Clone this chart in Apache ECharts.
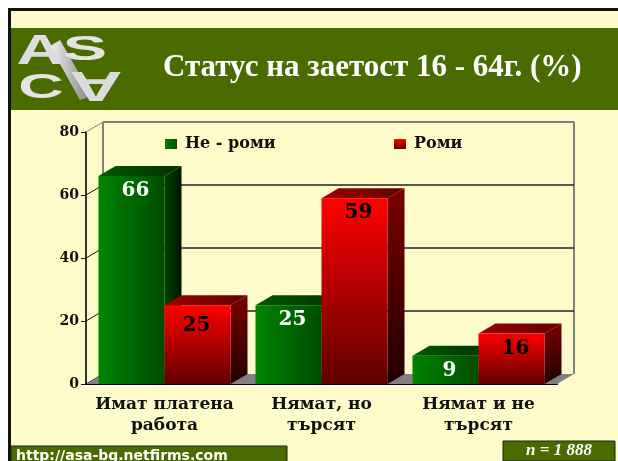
<!DOCTYPE html>
<html>
<head>
<meta charset="utf-8">
<style>
  html, body { margin: 0; padding: 0; background: #fff; }
  #chart { width: 618px; height: 461px; }
</style>
<script src="https://cdn.jsdelivr.net/npm/echarts@6/dist/echarts.min.js"></script>
</head>
<body>
<div id="chart"></div>
<script>
const categories = ['Имат платена\nработа', 'Нямат, но\nтърсят', 'Нямат и не\nтърсят'];
const nonRoma = [66, 25, 9];
const roma = [25, 59, 16];
const yTicks = [0, 20, 40, 60, 80];
const nonRomaName = 'Не - роми';
const romaName = 'Роми';

const serif = '"DejaVu Serif", serif';
const cream = '#fdfbc9';
const olive = '#4a6b00';
const depthX = 17;
const depthY = -10;

const hGrad = (a, b) => new echarts.graphic.LinearGradient(0, 0, 1, 0, [{ offset: 0, color: a }, { offset: 1, color: b }]);
const vGrad = (a, b) => new echarts.graphic.LinearGradient(0, 0, 0, 1, [{ offset: 0, color: a }, { offset: 1, color: b }]);

const poly = (points, fill, z2) => ({
  type: 'polygon',
  shape: { points },
  style: { fill },
  z2,
});

// 3d bar: front face, top and side, offset left or right of the category centre
const barItem = (colors, side, labelColor) => (params, api) => {
  const idx = api.value(0);
  const val = api.value(1);
  const band = api.size([1, 0])[0];
  const w = Math.round(band * 0.42);
  const top = api.coord([idx, val]);
  const base = api.coord([idx, 0]);
  const x0 = side < 0 ? top[0] - w : top[0];
  const x1 = x0 + w;
  // the red 25 sits lower and further left in its bar in the original
  const odd = side > 0 && idx === 0;
  const drop = odd ? 21 : 15;
  const shift = odd ? -1 : 4;
  return {
    type: 'group',
    children: [
      poly([[x1, top[1]], [x1 + depthX, top[1] + depthY], [x1 + depthX, base[1] + depthY], [x1, base[1]]], colors.side, 1),
      poly([[x0, top[1]], [x0 + depthX, top[1] + depthY], [x1 + depthX, top[1] + depthY], [x1, top[1]]], colors.top, 1),
      poly([[x0, top[1]], [x1, top[1]], [x1, base[1]], [x0, base[1]]], colors.front, 2),
      {
        type: 'text',
        z2: 3,
        style: {
          x: (x0 + x1) / 2 + shift,
          y: top[1] + drop,
          text: String(val),
          fill: labelColor,
          font: 'bold 20px ' + serif,
          align: 'center',
          verticalAlign: 'middle',
        },
      },
    ],
  };
};

// back wall, floor and the gridlines, one datum per y tick
const wallItem = (params, api) => {
  const val = api.value(0);
  const p = api.coord([0, val]);
  const right = params.coordSys.x + params.coordSys.width;
  const left = params.coordSys.x;
  const children = [
    {
      type: 'line',
      shape: { x1: left, y1: p[1], x2: left + depthX, y2: p[1] + depthY },
      style: { stroke: val === 80 ? '#808080' : '#111', lineWidth: 1 },
    },
  ];
  if (val > 0) {
    children.push({
      type: 'line',
      shape: { x1: left + depthX, y1: p[1] + depthY, x2: right + depthX, y2: p[1] + depthY },
      style: { stroke: val === 80 ? '#808080' : '#222', lineWidth: val === 80 ? 2 : 1.5 },
    });
  } else {
    const top = api.coord([0, 80]);
    children.push(poly([[left, p[1]], [right, p[1]], [right + depthX, p[1] + depthY], [left + depthX, p[1] + depthY]], '#808080', 0));
    children.push({
      type: 'line',
      shape: { x1: left + depthX, y1: p[1] + depthY, x2: left + depthX, y2: top[1] + depthY },
      style: { stroke: '#808080', lineWidth: 2 },
    });
    children.push({
      type: 'line',
      shape: { x1: right + depthX, y1: p[1] + depthY, x2: right + depthX, y2: top[1] + depthY },
      style: { stroke: '#808080', lineWidth: 2 },
    });
  }
  return { type: 'group', children };
};

const greenFront = hGrad('#008400', '#004c00');
const redFront = vGrad('#ff0000', '#600000');
const logoShadow = { shadowColor: '#222', shadowBlur: 2, shadowOffsetX: 1, shadowOffsetY: 1 };

const option = {
  animation: false,
  backgroundColor: '#fff',
  grid: { left: 86, right: 61, top: 132, bottom: 77 },
  legend: [
    {
      data: [nonRomaName],
      left: 160,
      top: 131,
      itemWidth: 12,
      itemHeight: 10,
      itemGap: 8,
      icon: 'rect',
      selectedMode: false,
      textStyle: { fontFamily: serif, fontWeight: 'bold', fontSize: 16, color: '#111', padding: [0, 0, 0, 3] },
    },
    {
      data: [romaName],
      left: 389,
      top: 131,
      itemWidth: 12,
      itemHeight: 10,
      itemGap: 8,
      icon: 'rect',
      selectedMode: false,
      textStyle: { fontFamily: serif, fontWeight: 'bold', fontSize: 16, color: '#111', padding: [0, 0, 0, 3] },
    },
  ],
  xAxis: {
    type: 'category',
    data: categories,
    axisLine: { lineStyle: { color: '#000', width: 2 } },
    axisTick: { length: 5, lineStyle: { color: '#222' } },
    axisLabel: { color: '#111', fontFamily: serif, fontWeight: 'bold', fontSize: 17, lineHeight: 21, margin: 10, interval: 0 },
  },
  yAxis: {
    type: 'value',
    min: 0,
    max: 80,
    interval: 20,
    splitLine: { show: false },
    axisLine: { show: true, lineStyle: { color: '#333', width: 2 } },
    axisTick: { show: true, length: 5, lineStyle: { color: '#111' } },
    axisLabel: { color: '#111', fontFamily: serif, fontWeight: 'bold', fontSize: 14, margin: 7 },
  },
  series: [
    {
      type: 'custom',
      name: 'wall',
      silent: true,
      z: 1,
      data: yTicks.map(v => [v]),
      encode: { y: 0 },
      renderItem: wallItem,
    },
    {
      type: 'custom',
      name: nonRomaName,
      z: 2,
      itemStyle: { color: greenFront },
      data: nonRoma.map((v, i) => [i, v]),
      encode: { x: 0, y: 1 },
      renderItem: barItem({ front: greenFront, top: hGrad('#005a00', '#003000'), side: hGrad('#004400', '#001400') }, -1, '#fff'),
    },
    {
      type: 'custom',
      name: romaName,
      z: 3,
      itemStyle: { color: redFront },
      data: roma.map((v, i) => [i, v]),
      encode: { x: 0, y: 1 },
      renderItem: barItem({ front: redFront, top: hGrad('#a00000', '#600000'), side: vGrad('#7a0000', '#200000') }, 1, '#000'),
    },
  ],
  graphic: [
    { type: 'rect', silent: true, z: -10, shape: { x: 8, y: 8, width: 610, height: 453 }, style: { fill: '#111' } },
    { type: 'rect', silent: true, z: -9, shape: { x: 11, y: 11, width: 607, height: 450 }, style: { fill: cream } },
    { type: 'rect', silent: true, z: -8, shape: { x: 11, y: 28, width: 607, height: 82 }, style: { fill: olive } },
    // logo
    { type: 'polygon', silent: true, z: -7, shape: { points: [[50, 46], [60, 40], [92, 96], [80, 100]] }, style: { fill: hGrad('#f0f0f0', '#808080') } },
    { type: 'text', silent: true, z: -7, x: 40, y: 52, scaleX: 1.55, style: { text: 'A', fill: '#dcdcdc', font: 'bold 42px "Liberation Sans", sans-serif', align: 'center', verticalAlign: 'middle', ...logoShadow } },
    { type: 'text', silent: true, z: -7, x: 85, y: 51, scaleX: 1.85, scaleY: 0.95, style: { text: 'S', fill: '#e4e4e4', font: 'bold 36px "Liberation Sans", sans-serif', align: 'center', verticalAlign: 'middle', ...logoShadow } },
    { type: 'text', silent: true, z: -7, x: 41, y: 89, scaleX: 1.75, scaleY: 0.95, style: { text: 'C', fill: '#e4e4e4', font: 'bold 36px "Liberation Sans", sans-serif', align: 'center', verticalAlign: 'middle', ...logoShadow } },
    { type: 'text', silent: true, z: -7, x: 96, y: 84, rotation: Math.PI, scaleX: 1.75, style: { text: 'A', fill: '#dcdcdc', font: 'bold 42px "Liberation Sans", sans-serif', align: 'center', verticalAlign: 'middle' } },
    // title
    { type: 'text', silent: true, z: 5, x: 163, y: 68, style: { text: 'Статус на заетост 16 - 64г. (%)', fill: '#fff', font: 'bold 31px "Liberation Serif", serif', verticalAlign: 'middle', shadowColor: '#111', shadowBlur: 1, shadowOffsetX: 2, shadowOffsetY: 2 } },
    // footer boxes
    { type: 'rect', silent: true, z: 5, shape: { x: 11, y: 446, width: 276, height: 16 }, style: { fill: olive, stroke: '#222', lineWidth: 1 } },
    { type: 'text', silent: true, z: 6, x: 16, y: 449, style: { text: 'http://asa-bg.netfirms.com', fill: '#fff', font: 'bold 14px "DejaVu Sans", sans-serif' } },
    { type: 'rect', silent: true, z: 5, shape: { x: 503, y: 441, width: 112, height: 20 }, style: { fill: olive, stroke: '#222', lineWidth: 1 } },
    { type: 'text', silent: true, z: 6, x: 559, y: 451, style: { text: 'n = 1 888', fill: '#fff', font: 'italic bold 17px "Liberation Serif", serif', align: 'center', verticalAlign: 'middle' } },
  ],
};

const chart = echarts.init(document.getElementById('chart'), null, { renderer: 'canvas' });
chart.setOption(option);
</script>
</body>
</html>
